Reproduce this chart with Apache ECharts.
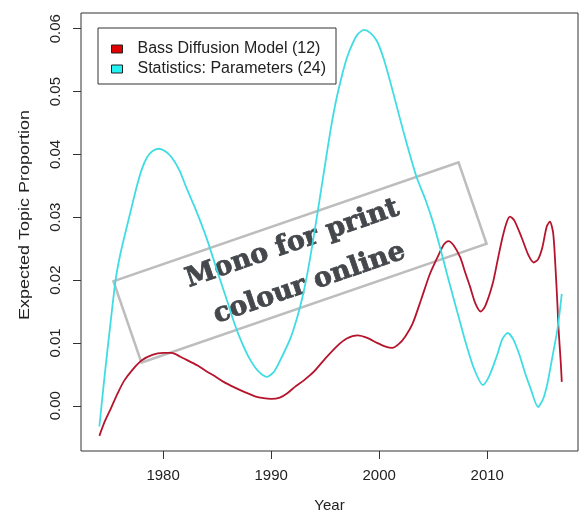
<!DOCTYPE html>
<html>
<head>
<meta charset="utf-8">
<script src="https://cdn.jsdelivr.net/npm/echarts@6/dist/echarts.min.js"></script>
<style>
html,body{margin:0;padding:0;background:#fff;}
#chart{width:581px;height:518px;}
</style>
</head>
<body>
<div id="chart"></div>
<script>
// ---- data ----
const seriesNames = ['Bass Diffusion Model (12)', 'Statistics: Parameters (24)'];

const bassYears = [1974.1, 1974.6, 1975.2, 1975.8, 1976.4, 1977.2, 1978.0, 1979.0, 1980.0, 1980.8,
  1981.6, 1982.4, 1983.2, 1984.0, 1984.8, 1985.6, 1986.5, 1987.5, 1988.5, 1989.3,
  1990.0, 1990.8, 1991.5, 1992.2, 1993.0, 1994.0, 1995.0, 1996.1, 1997.0, 1998.0,
  1998.9, 1999.8, 2000.6, 2001.2, 2001.8, 2002.4, 2003.1, 2003.9, 2004.7, 2005.5,
  2006.0, 2006.4, 2006.9, 2007.5, 2008.0, 2008.4, 2008.9, 2009.4, 2009.8, 2010.5,
  2011.0, 2011.4, 2011.8, 2012.1, 2012.5, 2013.2, 2013.8, 2014.3, 2014.7, 2015.1,
  2015.5, 2015.8, 2016.1, 2016.3, 2016.5, 2016.6, 2016.8, 2016.9];
const bassValues = [-0.0048, -0.0025, -0.0003, 0.0020, 0.0040, 0.0058, 0.0072, 0.0081, 0.0084, 0.0084,
  0.0078, 0.0071, 0.0064, 0.0055, 0.0047, 0.0038, 0.0030, 0.0022, 0.0015, 0.0012,
  0.0011, 0.0013, 0.0020, 0.0030, 0.0040, 0.0055, 0.0075, 0.0095, 0.0107, 0.0112,
  0.0108, 0.0100, 0.0094, 0.0092, 0.0098, 0.0110, 0.0131, 0.0170, 0.0210, 0.0240,
  0.0257, 0.0262, 0.0255, 0.0236, 0.0210, 0.0190, 0.0163, 0.0150, 0.0158, 0.0194,
  0.0235, 0.0267, 0.0292, 0.0301, 0.0295, 0.0267, 0.0240, 0.0228, 0.0233, 0.0252,
  0.0285, 0.0293, 0.0275, 0.0225, 0.0160, 0.0122, 0.0070, 0.0038];

const statYears = [1974.1, 1974.6, 1975.1, 1975.6, 1976.0, 1976.5, 1977.0, 1977.5, 1978.0, 1978.5,
  1979.0, 1979.6, 1980.2, 1980.8, 1981.5, 1982.2, 1983.0, 1984.0, 1985.0, 1986.0,
  1986.6, 1987.3, 1988.0, 1988.8, 1989.6, 1990.3, 1991.0, 1991.8, 1992.4, 1992.9,
  1993.4, 1993.9, 1994.5, 1995.0, 1995.5, 1996.0, 1996.5, 1997.0, 1997.5, 1998.0,
  1998.6, 1999.2, 1999.8, 2000.4, 2001.0, 2001.6, 2002.2, 2002.8, 2003.5, 2004.3,
  2005.0, 2005.6, 2006.3, 2006.9, 2007.5, 2008.1, 2008.8, 2009.6, 2010.2, 2010.9,
  2011.4, 2011.9, 2012.4, 2013.0, 2013.5, 2014.0, 2014.7, 2015.2, 2015.6, 2016.0,
  2016.5, 2016.9];
const statValues = [-0.0033, 0.0050, 0.0127, 0.0200, 0.0238, 0.0275, 0.0310, 0.0345, 0.0375, 0.0395,
  0.0405, 0.0409, 0.0405, 0.0395, 0.0375, 0.0345, 0.0313, 0.0268, 0.0215, 0.0163,
  0.0131, 0.0100, 0.0075, 0.0055, 0.0046, 0.0055, 0.0078, 0.0108, 0.0140, 0.0173,
  0.0215, 0.0265, 0.0330, 0.0385, 0.0439, 0.0485, 0.0522, 0.0553, 0.0575, 0.0591,
  0.0598, 0.0593, 0.0580, 0.0553, 0.0517, 0.0478, 0.0439, 0.0402, 0.0362, 0.0327,
  0.0291, 0.0254, 0.0208, 0.0170, 0.0132, 0.0095, 0.0058, 0.0033, 0.0048, 0.0080,
  0.0106, 0.0116, 0.0106, 0.0080, 0.0052, 0.0028, -0.0002, 0.0012, 0.0038, 0.0075,
  0.0122, 0.0178];

const xTicks = [1980, 1990, 2000, 2010];
const yTicks = [0.00, 0.01, 0.02, 0.03, 0.04, 0.05, 0.06];

const xTitle = 'Year';
const yTitle = 'Expected Topic Proportion';
const watermarkLines = ['Mono for print', 'colour online'];

// ---- chart ----
const pair = (xs, ys) => xs.map((x, i) => [x, ys[i]]);
const FONT = '"Liberation Sans", Arial, sans-serif';
const SERIF = '"DejaVu Serif", "Liberation Serif", serif';
const chart = echarts.init(document.getElementById('chart'), null, {renderer: 'canvas'});

chart.setOption({
  animation: false,
  backgroundColor: '#ffffff',
  grid: {left: 81, right: 3, top: 13, bottom: 61, show: true, borderColor: '#333', borderWidth: 1, containLabel: false},
  legend: {
    orient: 'vertical', left: 98, top: 28,
    padding: [13, 10, 7, 13],
    borderColor: '#333', borderWidth: 1,
    itemWidth: 11, itemHeight: 8, itemGap: 4,
    textStyle: {fontFamily: FONT, fontSize: 16, color: '#222', padding: [0, 0, 0, 10]},
    data: [
      {name: seriesNames[0], icon: 'rect', itemStyle: {color: '#e00000', borderColor: '#222', borderWidth: 1}},
      {name: seriesNames[1], icon: 'rect', itemStyle: {color: '#22f2f2', borderColor: '#222', borderWidth: 1}}
    ]
  },
  xAxis: {
    type: 'value', min: 1972.4, max: 2018.4,
    splitLine: {show: false},
    axisLine: {show: false, onZero: false},
    axisTick: {show: true, customValues: xTicks, length: 8, lineStyle: {color: '#333'}},
    axisLabel: {customValues: xTicks, fontFamily: FONT, fontSize: 15, color: '#222', margin: 17,
      formatter: v => String(Math.round(v))},
    name: xTitle, nameLocation: 'middle', nameGap: 47,
    nameTextStyle: {fontFamily: FONT, fontSize: 15, color: '#222'}
  },
  yAxis: {
    type: 'value', min: -0.0072, max: 0.0625,
    splitLine: {show: false},
    axisLine: {show: false, onZero: false},
    axisTick: {show: true, customValues: yTicks, length: 8, lineStyle: {color: '#333'}},
    axisLabel: {customValues: yTicks, rotate: 90, fontFamily: FONT, fontSize: 15, color: '#222', margin: 18,
      formatter: v => v.toFixed(2)}
  },
  series: [
    {name: seriesNames[0], type: 'line', data: pair(bassYears, bassValues), showSymbol: false, smooth: 0.25,
      lineStyle: {color: '#b5142c', width: 1.8}, itemStyle: {color: '#b5142c'}},
    {name: seriesNames[1], type: 'line', data: pair(statYears, statValues), showSymbol: false, smooth: 0.25,
      lineStyle: {color: '#3fdde3', width: 1.8}, itemStyle: {color: '#3fdde3'}}
  ],
  graphic: [
    {type: 'text', x: 25, y: 215, rotation: Math.PI / 2, scaleX: 1.2,
      style: {text: yTitle, fontFamily: FONT, fontSize: 15, fill: '#222', align: 'center', verticalAlign: 'middle'}},
    {type: 'group', x: 300, y: 262.5, rotation: 19 * Math.PI / 180, z: 100,
      children: [
        {type: 'rect', shape: {x: -182.5, y: -43, width: 365, height: 86},
          style: {fill: 'rgba(0,0,0,0)', stroke: '#bdbdbd', lineWidth: 2.5}},
        {type: 'text', x: -1, y: -20,
          style: {text: watermarkLines[0], fontFamily: SERIF, fontWeight: 'bold', fontSize: 27,
            fill: '#44484c', stroke: '#44484c', lineWidth: 0.8, align: 'center', verticalAlign: 'middle'}},
        {type: 'text', x: 2, y: 23,
          style: {text: watermarkLines[1], fontFamily: SERIF, fontWeight: 'bold', fontSize: 27,
            fill: '#44484c', stroke: '#44484c', lineWidth: 0.8, align: 'center', verticalAlign: 'middle'}}
      ]}
  ]
});
</script>
</body>
</html>
